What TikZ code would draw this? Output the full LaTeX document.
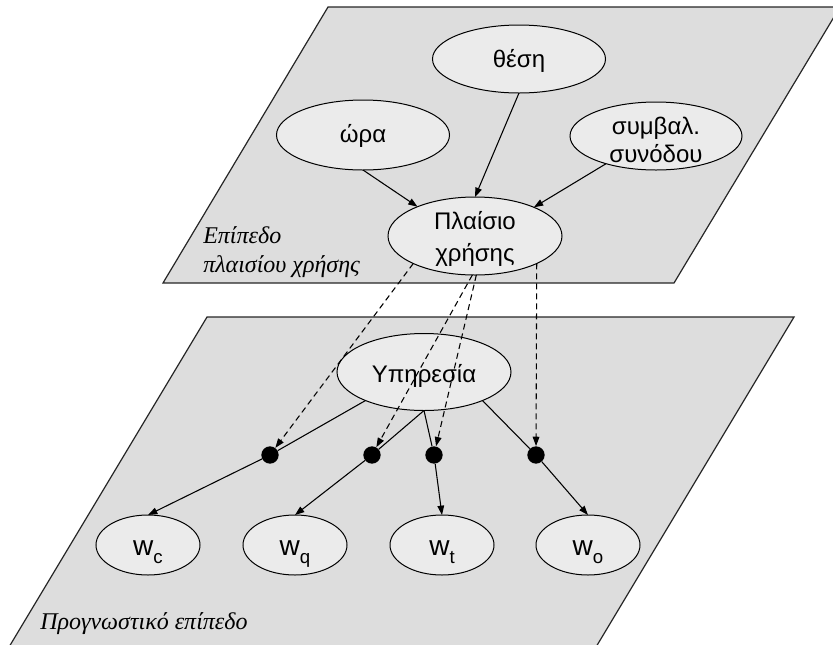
\documentclass[tikz,border=0pt]{standalone}
\usepackage{fontspec}
\setmainfont{Liberation Sans}
\newfontfamily\labelserif{Liberation Serif}
\usetikzlibrary{shapes.geometric,arrows.meta}
\definecolor{planegray}{RGB}{221,221,221}
\definecolor{nodegray}{RGB}{235,235,235}
\begin{document}
\begin{tikzpicture}[x=0.75pt,y=-0.75pt,
  plane/.style={draw=black!85, line width=0.9pt, fill=planegray},
  blob/.style={ellipse, draw, line width=0.75pt, fill=nodegray, inner sep=0pt, outer sep=0pt},
  caption/.style={font=\fontsize{18}{24}\selectfont, inner sep=0pt, align=center},
  junction/.style={circle, fill=black, inner sep=0pt, minimum size=13pt},
  plain/.style={line width=0.8pt},
  link/.style={plain, -{Triangle[length=7pt,width=5pt]}},
  cue/.style={link, dash pattern=on 4.5pt off 3pt},
  tag/.style={font=\labelserif\itshape\fontsize{18}{20}\selectfont, inner sep=0pt, anchor=base west}
]
\useasboundingbox (0,0) rectangle (833,644);

% the two planes
\draw[plane] (328,7) -- (840,7) -- (674,283) -- (163,283) -- cycle;
\draw[plane] (207,317) -- (794,317) -- (584,667) -- (-3,667) -- cycle;

% plane captions
\node[tag] (ctxA) at (203,243) {Επίπεδο};
\node[tag] (ctxB) at (203,272) {πλαισίου χρήσης};
\node[tag] (pred) at (40,629) {Προγνωστικό επίπεδο};

% context plane
\node[blob, minimum width=129.75pt, minimum height=51pt] (thesi) at (519,59) {};
\node[caption, anchor=base] (thesiT) at ([yshift=-6pt]thesi.center) {θέση};
\node[blob, minimum width=129.75pt, minimum height=52.5pt] (ora) at (363,135) {};
\node[caption, anchor=base] (oraT) at ([yshift=-5.25pt]ora.center) {ώρα};
\node[blob, minimum width=129pt, minimum height=51pt] (symb) at (656,136) {};
\node[caption, font=\fontsize{18}{20.5}\selectfont] (symbT) at ([yshift=-3pt]symb.center) {συμβαλ.\\συνόδου};
\node[blob, minimum width=130.5pt, minimum height=58.5pt] (plaisio) at (475,236) {};
\node[caption] (plaisioT) at ([yshift=-2pt]plaisio.center) {Πλαίσιο\\χρήσης};

\draw[link] (ora.south) -- (plaisio.153);
\draw[link] (thesi.south) -- (plaisio.north);
\draw[link] (symb.209) -- (plaisio.26);

% prediction plane
\node[blob, minimum width=130.5pt, minimum height=57.75pt] (yp) at (424,372) {};
\node[caption, anchor=base] (ypT) at ([yshift=-7.5pt]yp.center) {Υπηρεσία};

\node[junction] (d1) at (270,455) {};
\node[junction] (d2) at (372,455) {};
\node[junction] (d3) at (434,455) {};
\node[junction] (d4) at (536,455) {};

\foreach \n/\x/\s in {wc/148/c, wq/295/q, wt/442/t, wo/588/o}{
  \node[blob, minimum width=78pt, minimum height=45pt] (\n) at (\x,545) {};
  \node[caption, font=\fontsize{21}{21}\selectfont, anchor=base] (\n T) at ([yshift=-7.5pt]\n.center)
    {w\raisebox{-6pt}{\fontsize{14}{14}\selectfont \s}};
}

\draw[plain] (yp.206) -- (d1);
\draw[plain] (yp.south) -- (d2);
\draw[plain] (yp.south) -- (d3);
\draw[plain] (yp.334) -- (d4);
\draw[link] (d1) -- (wc.north);
\draw[link] (d2) -- (wq.north);
\draw[link] (d3) -- (wt.north);
\draw[link] (d4) -- (wo.north);

% context influence
\draw[cue] (plaisio.204) -- (d1);
\draw[cue] ([xshift=-2pt]plaisio.south) -- (d2);
\draw[cue] ([xshift=1pt]plaisio.south) -- (d3);
\draw[cue] (plaisio.336) -- (d4);
\end{tikzpicture}
\end{document}
